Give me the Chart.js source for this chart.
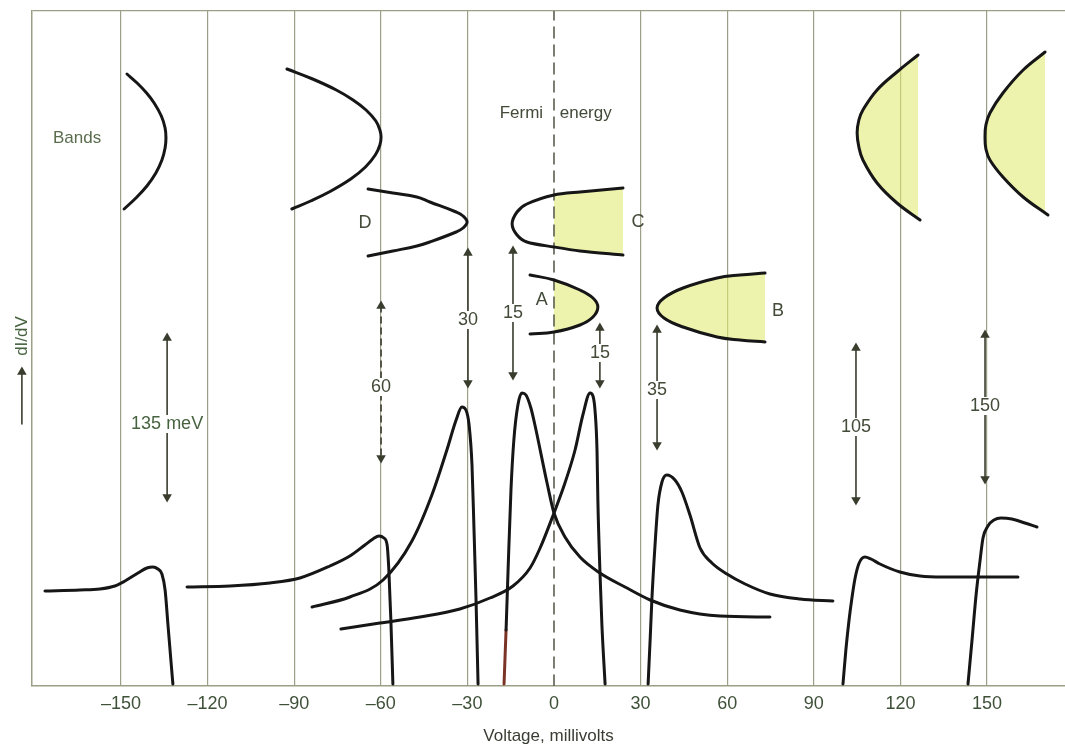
<!DOCTYPE html>
<html>
<head>
<meta charset="utf-8">
<style>
  html, body { margin: 0; padding: 0; background: #fff; overflow: hidden; }
  #wrap { width: 1065px; height: 748px; }
</style>
<script src="https://cdn.jsdelivr.net/npm/chart.js@4.4.1/dist/chart.umd.min.js"></script>
</head>
<body>
<div id="wrap"><canvas id="chart"></canvas></div>
<script>
// ---------- Data: voltage in mV, dI/dV in arbitrary units ----------

const tickValues = [-150, -120, -90, -60, -30, 0, 30, 60, 90, 120, 150];
const tickLabels = ['\u2013150', '\u2013120', '\u201390', '\u201360', '\u201330', '0', '30', '60', '90', '120', '150'];

// tunnelling spectra [mV, dI/dV]
const spec135 = [[-176.3, 95], [-164.2, 96], [-157.3, 97], [-152.1, 100], [-148.6, 105], [-144.1, 113], [-141.0, 118],
  [-138.9, 119], [-137.2, 117], [-135.8, 112], [-134.7, 96], [-133.7, 61], [-132.7, 26], [-132.0, 2]];
const spec60 = [[-127.1, 99], [-112.2, 100], [-98.4, 103], [-88.0, 108], [-77.6, 120], [-70.7, 130], [-65.5, 141],
  [-62.7, 147], [-60.6, 150], [-58.9, 148], [-57.8, 141], [-57.2, 116], [-56.5, 66], [-55.8, 2]];
const spec30 = [[-83.8, 79], [-70.7, 89], [-59.2, 106], [-49.2, 145], [-42.3, 191], [-37.1, 236], [-33.9, 266],
  [-31.9, 279], [-30.5, 276], [-29.4, 261], [-28.4, 221], [-27.7, 156], [-27.0, 86], [-26.3, 2]];
const spec15 = [[-17.3, 2], [-16.6, 56], [-15.9, 116], [-14.9, 196], [-13.9, 246], [-12.5, 281], [-11.1, 293],
  [-9.7, 291], [-8.0, 278], [-6.6, 261], [-2.4, 203], [0, 173], [3.8, 149], [9.0, 129], [15.9, 113], [24.6, 99],
  [33.3, 86], [43.6, 76], [57.5, 70], [74.8, 69]];
const spec12 = [[-73.8, 57], [-60.3, 63], [-46.4, 69], [-32.6, 77], [-22.2, 88], [-14.2, 100], [-8.3, 118], [-4.8, 138],
  [0, 173], [3.8, 203], [7.3, 236], [10.0, 271], [12.5, 293], [13.5, 290], [14.2, 276], [14.9, 236], [15.2, 186],
  [15.9, 116], [16.6, 61], [17.7, 2]];
const spec35 = [[32.6, 2], [33.3, 46], [33.9, 86], [35.0, 141], [36.0, 181], [37.4, 204], [39.1, 211], [41.9, 206],
  [44.3, 194], [47.1, 171], [50.6, 138], [54.7, 123], [59.9, 112], [66.2, 102], [74.8, 92], [85.2, 87], [96.6, 85]];
const spec105 = [[100.1, 2], [101.1, 36], [102.2, 66], [103.2, 88], [104.3, 108], [105.7, 123], [107.7, 129],
  [109.8, 127], [112.9, 122], [119.8, 114], [126.8, 110], [134.7, 109], [147.6, 109], [160.7, 109]];
const spec150 = [[143.4, 2], [144.8, 46], [146.2, 91], [147.6, 126], [148.6, 148], [150.3, 160], [152.4, 166],
  [154.8, 168], [158.6, 167], [163.1, 163], [167.3, 159]];

// band sketches, traced top -> bottom [mV, height]
const band135 = [[-147.9, 612], [-144.4, 603], [-141.1, 593], [-138.5, 583], [-136.0, 570], [-134.7, 558], [-134.4, 548],
  [-134.7, 538], [-135.8, 526], [-137.9, 513], [-141.0, 500], [-144.8, 488], [-148.9, 477]];
const band60 = [[-92.5, 617], [-83.6, 607], [-75.4, 596], [-69.6, 586], [-65.1, 576], [-61.7, 565], [-60.3, 556], [-59.9, 549],
  [-60.3, 541], [-61.9, 531], [-65.3, 519], [-70.4, 507], [-77.9, 494], [-84.3, 485], [-90.8, 477]];
const bandD = [[-64.4, 497], [-55.8, 493], [-47.5, 489], [-43.0, 484], [-33.9, 474], [-31.5, 470], [-30.1, 464],
  [-31.5, 458], [-33.9, 454], [-43.0, 444], [-47.5, 440], [-55.8, 435], [-64.4, 430]];
const bandC = [[23.9, 498], [9.0, 494], [0, 491], [-9.4, 482], [-12.8, 474], [-14.5, 462],
  [-12.8, 451], [-9.4, 444], [0, 439], [9.0, 435], [23.9, 431]];
const bandA = [[-8.3, 411], [0, 406], [9.0, 396], [13.5, 388], [15.2, 379], [13.5, 369], [9.0, 361], [0, 354], [-8.3, 352]];
const bandB = [[73.1, 413], [64.4, 411], [56.5, 408], [44.7, 398], [38.1, 388], [35.7, 378], [38.1, 368], [44.7, 359],
  [56.5, 349], [64.4, 346], [73.1, 344]];
const band105 = [[126.1, 631], [118.8, 614], [111.9, 596], [107.0, 576], [105.6, 566], [105.0, 553],
  [105.6, 539], [107.0, 526], [111.9, 503], [118.8, 483], [126.8, 466]];
const band150 = [[170.1, 634], [162.5, 616], [155.5, 593], [151.0, 573], [149.6, 561], [149.3, 549],
  [149.6, 537], [151.0, 526], [155.5, 509], [162.5, 489], [171.1, 471]];

// occupied part of the bands is shaded from this voltage on
const shadedBands = [[bandC, 0], [bandA, 0], [bandB, -Infinity], [band105, -Infinity], [band150, -Infinity]];

// gap arrows
const arrowX = [-134.0, -59.9, -29.8, -14.2, 15.9, 35.7, 104.6, 149.3];
const arrowTop = [348, 380, 433, 435, 358, 356, 338, 351];
const arrowBottom = [189, 228, 303, 311, 303, 241, 186, 207];
const arrowText = ['135 meV', '60', '30', '15', '15', '35', '105', '150'];
const arrowTextY = [262, 299, 366, 373, 333, 296, 259, 280];

// band letters and other notes
const letterText = ['D', 'C', 'A', 'B'];
const letterX = [-65.5, 29.1, -4.2, 77.6];
const letterY = [463, 464, 386, 375];
const noteText = ['Bands', 'Fermi', 'energy'];
const noteX = [-165.2, -11.3, 11.0];
const noteY = [548, 573, 573];
const axisArrow = [[-184.3, 262], [-184.3, 314]];

// ---------- Styles ----------

const FONT = '"Liberation Sans", Arial, sans-serif';
const ink = '#161616';
const gridColor = '#9c9f86';
const arrowColor = '#393d2e';
const textColor = '#424a38';
const shade = 'rgba(224, 234, 112, 0.58)';

Chart.defaults.font.family = FONT;

const toXY = pts => pts.map(p => ({ x: p[0], y: p[1] }));

function curve(pts, extra) {
    return Object.assign({
        data: toXY(pts),
        borderColor: ink,
        borderWidth: 3,
        pointRadius: 0,
        fill: false,
        order: 1
    }, extra);
}

// ---------- Datasets ----------

const datasets = [];

// shaded parts of bands: upper branch filled down to lower branch
shadedBands.forEach(([pts, fromX]) => {
    const xs = pts.map(p => p[0]);
    let vi = xs.indexOf(Math.min(...xs));
    if (vi === 0 || vi === pts.length - 1) vi = xs.indexOf(Math.max(...xs));
    const byX = (a, b) => a[0] - b[0];
    const upper = pts.slice(0, vi + 1).filter(p => p[0] >= fromX).sort(byX);
    const lower = pts.slice(vi).filter(p => p[0] >= fromX).sort(byX);
    datasets.push({
        data: toXY(upper), borderColor: 'rgba(0,0,0,0)', borderWidth: 0, pointRadius: 0,
        tension: 0.35, backgroundColor: shade, fill: '+1', order: 6
    });
    datasets.push({
        data: toXY(lower), borderColor: 'rgba(0,0,0,0)', borderWidth: 0, pointRadius: 0,
        tension: 0.35, fill: false, order: 7
    });
});

// Fermi level
datasets.push({
    data: [{ x: 0, y: 0 }, { x: 0, y: 675 }],
    borderColor: '#5d5f50', borderWidth: 1.6, borderDash: [11, 7],
    pointRadius: 0, fill: false, order: 4
});

// spectra
[spec135, spec60, spec30, spec12, spec35, spec105, spec150].forEach(s => {
    datasets.push(curve(s, { cubicInterpolationMode: 'monotone' }));
});
datasets.push(curve(spec15, {
    cubicInterpolationMode: 'monotone',
    segment: { borderColor: c => c.p0DataIndex === 0 ? '#7a3426' : undefined }
}));

// band outlines
[band135, band60, bandD, bandC, bandA, bandB, band105, band150].forEach(b => {
    datasets.push(curve(b, { tension: b === bandC ? 0.3 : 0.4 }));
});

// arrows
arrowX.forEach((x, i) => {
    datasets.push({
        data: [{ x, y: arrowTop[i] }, { x, y: arrowBottom[i] }],
        borderColor: arrowColor,
        borderWidth: 1.6,
        borderDash: arrowText[i] === '60' ? [6, 5] : [],
        pointStyle: 'triangle',
        pointRadius: 5.5,
        pointRotation: [0, 180],
        pointBackgroundColor: arrowColor,
        pointBorderWidth: 0,
        fill: false,
        order: 0
    });
});

// dI/dV arrow shaft (sits left of the plot area)
datasets.push({
    data: toXY(axisArrow),
    borderColor: arrowColor, borderWidth: 1.6,
    pointRadius: 0, fill: false, clip: false, order: 0
});

// ---------- Text on the figure ----------

const figureText = {
    id: 'figureText',
    afterDatasetsDraw(chart) {
        const { ctx, scales: { x, y } } = chart;
        ctx.save();
        ctx.textAlign = 'center';
        ctx.textBaseline = 'middle';

        ctx.font = '18px ' + FONT;
        arrowText.forEach((t, i) => {
            const px = x.getPixelForValue(arrowX[i]);
            const py = y.getPixelForValue(arrowTextY[i]);
            const w = ctx.measureText(t).width;
            ctx.fillStyle = '#fff';
            ctx.fillRect(px - w / 2 - 2, py - 9, w + 4, 18);
            ctx.fillStyle = i === 0 ? '#46623f' : textColor;
            ctx.fillText(t, px, py);
        });

        ctx.fillStyle = textColor;
        letterText.forEach((t, i) => {
            ctx.fillText(t, x.getPixelForValue(letterX[i]), y.getPixelForValue(letterY[i]));
        });

        ctx.font = '17px ' + FONT;
        noteText.forEach((t, i) => {
            ctx.fillStyle = i === 0 ? '#5b6d4e' : textColor;
            ctx.fillText(t, x.getPixelForValue(noteX[i]), y.getPixelForValue(noteY[i]));
        });

        // head of the dI/dV arrow
        const hx = x.getPixelForValue(axisArrow[1][0]);
        const hy = y.getPixelForValue(axisArrow[1][1]);
        ctx.fillStyle = arrowColor;
        ctx.beginPath();
        ctx.moveTo(hx, hy - 5.5);
        ctx.lineTo(hx - 4.8, hy + 2.8);
        ctx.lineTo(hx + 4.8, hy + 2.8);
        ctx.closePath();
        ctx.fill();

        // axis label above the arrow
        ctx.translate(hx, y.getPixelForValue(350));
        ctx.rotate(-Math.PI / 2);
        ctx.fillStyle = '#46623f';
        ctx.fillText('dI/dV', 0, 0);
        ctx.restore();
    }
};

// ---------- Chart ----------

new Chart(document.getElementById('chart'), {
    type: 'line',
    data: { datasets },
    options: {
        responsive: true,
        maintainAspectRatio: false,
        animation: false,
        devicePixelRatio: 1,
        layout: { autoPadding: false, padding: { top: 11, right: 0, bottom: 0, left: 0 } },
        elements: { line: { borderCapStyle: 'round', borderJoinStyle: 'round' } },
        plugins: { legend: { display: false }, tooltip: { enabled: false } },
        scales: {
            x: {
                type: 'linear',
                min: -180.8,
                max: 177,
                afterBuildTicks: s => { s.ticks = tickValues.map(v => ({ value: v })); },
                afterFit: s => { s.height = 62; },
                grid: {
                    color: c => (c.tick && c.tick.value === 0) ? 'rgba(0,0,0,0)' : gridColor,
                    lineWidth: 1.2,
                    drawTicks: false
                },
                border: { color: gridColor, width: 1.5 },
                ticks: {
                    autoSkip: false,
                    maxRotation: 0,
                    padding: 7,
                    color: '#3e5038',
                    font: { size: 18 },
                    callback: v => tickLabels[tickValues.indexOf(v)]
                },
                title: {
                    display: true,
                    text: 'Voltage, millivolts',
                    color: '#3a3d33',
                    font: { size: 17 },
                    padding: { top: 0, bottom: 1 }
                }
            },
            y: {
                type: 'linear',
                min: 0,
                max: 675,
                afterBuildTicks: s => { s.ticks = [{ value: 675 }]; },
                afterFit: s => { s.width = 32; },
                grid: { color: gridColor, lineWidth: 1.2, drawTicks: false },
                border: { color: gridColor, width: 1.5 },
                ticks: { display: false }
            }
        }
    },
    plugins: [figureText]
});
</script>
</body>
</html>
